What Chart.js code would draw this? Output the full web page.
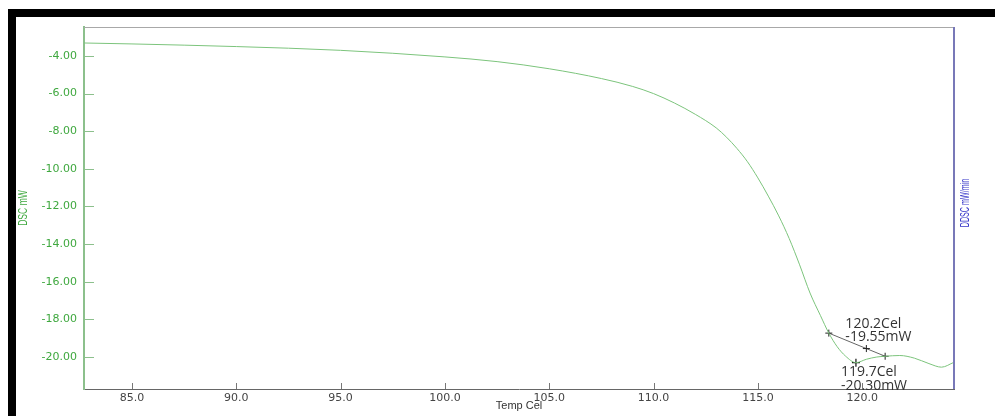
<!DOCTYPE html>
<html>
<head>
<meta charset="utf-8">
<title>DSC curve</title>
<script src="https://cdn.jsdelivr.net/npm/chart.js@4.4.0/dist/chart.umd.min.js"></script>
<style>
  html, body { margin: 0; padding: 0; background: #fff; overflow: hidden; }
  #wrap { position: relative; width: 995px; height: 416px; }
  #topbar { position: absolute; left: 8px; top: 9px; width: 987px; height: 8px; background: #000; }
  #leftbar { position: absolute; left: 8px; top: 9px; width: 8px; height: 407px; background: #000; }
</style>
</head>
<body>
<div id="wrap">
  <canvas id="dscChart" width="995" height="416"></canvas>
  <div id="topbar"></div>
  <div id="leftbar"></div>
</div>
<script>
// DSC trace (Temp Cel vs DSC mW)
const tempC = [82.7, 85, 90, 95, 100, 102.5, 105, 107.5, 109, 110, 111, 112, 113, 113.5, 114, 114.5,
  115, 115.5, 116, 116.5, 117, 117.5, 118, 118.4, 118.8, 119.2, 119.7, 120.2, 120.7, 121.1,
  121.8, 122.5, 123.2, 123.8, 124.4];
const dscMW = [-3.31, -3.36, -3.50, -3.70, -4.05, -4.30, -4.68, -5.20, -5.62, -6.00, -6.50, -7.10,
  -7.82, -8.32, -8.92, -9.62, -10.48, -11.45, -12.50, -13.70, -15.10, -16.60, -17.80, -18.73,
  -19.45, -19.95, -20.30, -20.12, -20.00, -19.96, -19.92, -20.06, -20.35, -20.54, -20.28];

// tangent construction and peak marker
const tangentT = [118.4, 120.2, 121.1];
const tangentMW = [-18.73, -19.55, -19.96];
const peakT = [119.7];
const peakMW = [-20.30];

const onsetLabel = ['120.2Cel', '-19.55mW'];
const peakLabel = ['119.7Cel', '-20.30mW'];

const xTicks = [85, 90, 95, 100, 105, 110, 115, 120];
const yTicks = [-4, -6, -8, -10, -12, -14, -16, -18, -20];

const GREEN = '#3fa83f';
const LINE_GREEN = '#7cc47c';

function toPoints(xs, ys) {
  return xs.map((x, i) => ({ x: x, y: ys[i] }));
}

// annotation text, axis ticks drawn inward, frame lines
const dscDecor = {
  id: 'dscDecor',
  afterDatasetsDraw(chart) {
    const ctx = chart.ctx;
    const x = chart.scales.x, y = chart.scales.y;
    ctx.save();
    ctx.fillStyle = '#333';
    ctx.font = '14px "Open Sans"';
    ctx.textBaseline = 'middle';
    ctx.textAlign = 'left';
    const ox = x.getPixelForValue(tangentT[1]), oy = y.getPixelForValue(tangentMW[1]);
    ctx.fillText(onsetLabel[0], ox - 21, oy - 25);
    ctx.fillText(onsetLabel[1], ox - 21, oy - 12);
    const px = x.getPixelForValue(peakT[0]), py = y.getPixelForValue(peakMW[0]);
    ctx.fillText(peakLabel[0], px - 15, py + 9);
    ctx.fillText(peakLabel[1], px - 15, py + 23);
    ctx.restore();
  },
  afterDraw(chart) {
    const ctx = chart.ctx;
    const a = chart.chartArea;
    const x = chart.scales.x, y = chart.scales.y;
    ctx.save();
    // top frame
    ctx.strokeStyle = '#a8a8a8';
    ctx.lineWidth = 1;
    ctx.beginPath();
    ctx.moveTo(a.left, a.top + 0.5);
    ctx.lineTo(a.right, a.top + 0.5);
    ctx.stroke();
    // right frame (DDSC axis)
    ctx.strokeStyle = '#7878b8';
    ctx.lineWidth = 2;
    ctx.beginPath();
    ctx.moveTo(a.right, a.top);
    ctx.lineTo(a.right, a.bottom);
    ctx.stroke();
    // inward tick marks
    ctx.lineWidth = 1;
    ctx.strokeStyle = '#8cc08c';
    yTicks.forEach(v => {
      const py = Math.round(y.getPixelForValue(v)) + 0.5;
      ctx.beginPath();
      ctx.moveTo(a.left, py);
      ctx.lineTo(a.left + 10, py);
      ctx.stroke();
    });
    ctx.strokeStyle = '#777';
    xTicks.forEach(v => {
      const px = Math.round(x.getPixelForValue(v)) + 0.5;
      ctx.beginPath();
      ctx.moveTo(px, a.bottom);
      ctx.lineTo(px, a.bottom - 6);
      ctx.stroke();
    });
    // rotated axis titles
    ctx.textAlign = 'center';
    ctx.textBaseline = 'middle';
    const midY = (a.top + a.bottom) / 2;
    ctx.save();
    ctx.translate(23, midY);
    ctx.rotate(-Math.PI / 2);
    ctx.scale(0.66, 1);
    ctx.fillStyle = GREEN;
    ctx.font = '13px "Liberation Sans"';
    ctx.fillText('DSC mW', 0, 0);
    ctx.restore();
    ctx.save();
    ctx.translate(965, midY - 5);
    ctx.rotate(-Math.PI / 2);
    ctx.scale(0.55, 1);
    ctx.fillStyle = '#3535c8';
    ctx.font = '13px "Liberation Sans"';
    ctx.fillText('DDSC mW/min', 0, 0);
    ctx.restore();
    ctx.restore();
  }
};

Chart.defaults.font.family = '"DejaVu Sans"';

new Chart(document.getElementById('dscChart'), {
  type: 'line',
  data: {
    datasets: [
      {
        label: 'DSC',
        data: toPoints(tempC, dscMW),
        borderColor: LINE_GREEN,
        borderWidth: 1,
        pointRadius: 0,
        cubicInterpolationMode: 'monotone',
        fill: false
      },
      {
        label: 'Tangent',
        data: toPoints(tangentT, tangentMW),
        borderColor: '#666',
        borderWidth: 1,
        pointStyle: 'cross',
        pointRadius: 3.5,
        pointBorderColor: '#222',
        pointBorderWidth: 1,
        tension: 0,
        fill: false
      },
      {
        label: 'Peak',
        data: toPoints(peakT, peakMW),
        showLine: false,
        pointStyle: 'cross',
        pointRadius: 4,
        pointBorderColor: '#111',
        pointBorderWidth: 1.2
      }
    ]
  },
  options: {
    responsive: false,
    animation: false,
    devicePixelRatio: 1,
    layout: { padding: { top: 27, right: 41, left: 0, bottom: 0 } },
    plugins: {
      legend: { display: false },
      tooltip: { enabled: false }
    },
    scales: {
      x: {
        type: 'linear',
        min: 82.7,
        max: 124.4,
        afterBuildTicks: s => { s.ticks = xTicks.map(v => ({ value: v })); },
        afterFit: s => { s.height = 27; },
        grid: { display: true, drawOnChartArea: false, drawTicks: false },
        border: { color: '#666', width: 1 },
        ticks: {
          color: '#444',
          font: { size: 11 },
          padding: 3,
          maxRotation: 0,
          callback: v => Number(v).toFixed(1)
        },
        title: {
          display: true,
          text: 'Temp Cel',
          color: '#333',
          font: { size: 11, family: '"Liberation Sans"' },
          padding: { top: 0, bottom: 3 }
        }
      },
      y: {
        type: 'linear',
        min: -21.7,
        max: -2.46,
        afterBuildTicks: s => { s.ticks = yTicks.map(v => ({ value: v })); },
        afterFit: s => { s.width = 84; },
        grid: { display: true, drawOnChartArea: false, drawTicks: false },
        border: { color: '#8cc08c', width: 2 },
        ticks: {
          color: GREEN,
          font: { size: 11 },
          padding: 7,
          callback: v => Number(v).toFixed(2)
        }
      }
    }
  },
  plugins: [dscDecor]
});
</script>
</body>
</html>
